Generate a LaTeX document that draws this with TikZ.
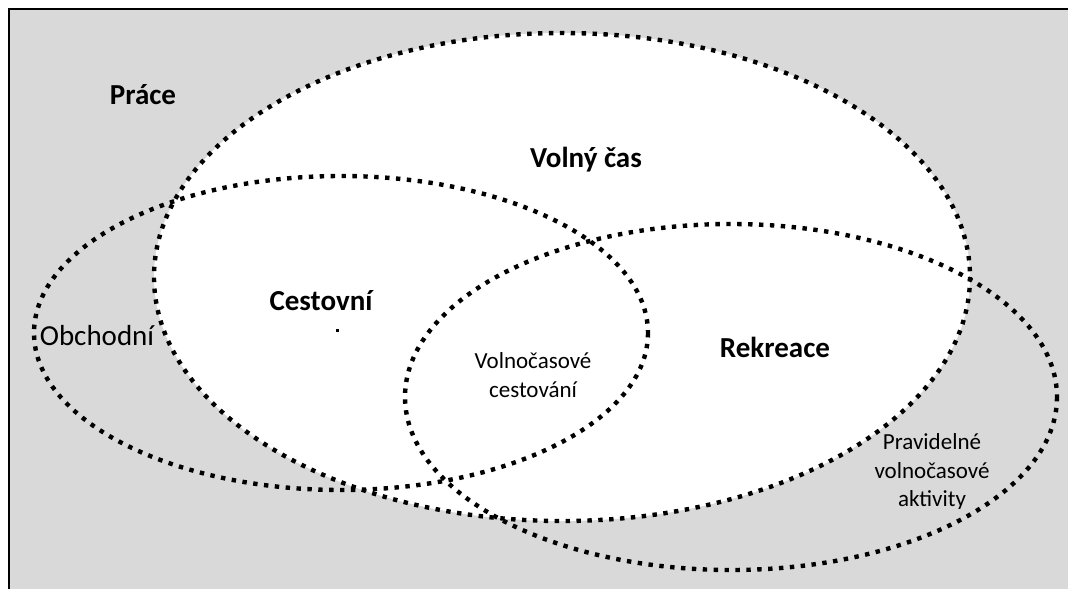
\documentclass[tikz,border=0pt]{standalone}
\usepackage{fontspec}
\setmainfont{Carlito}
\begin{document}
\begin{tikzpicture}[x=1pt,y=-1pt,
  dotline/.style={line width=4.4pt,dash pattern=on 4.4pt off 6.5pt},
  bigtxt/.style={font=\fontsize{29}{32}\selectfont\bfseries,inner sep=0pt},
  regtxt/.style={font=\fontsize{29}{32}\selectfont,inner sep=0pt},
  smalltxt/.style={font=\fontsize{23}{28.5}\selectfont,inner sep=0pt,align=center}]
\useasboundingbox (0,0) rectangle (1068,589);
% background panel
\fill[fill={rgb,255:red,217;green,217;blue,217}] (9,9) rectangle (1068,589);
\draw[line width=2pt] (9,589) -- (9,9) -- (1068,9);
% Volny cas (white)
\fill[white] (562,277) ellipse [x radius=408, y radius=244];
% ellipses
\draw[dotline] (562,277) ellipse [x radius=408, y radius=244];
\draw[dotline] (341,333) ellipse [x radius=307, y radius=157];
\draw[dotline] (731,397) ellipse [x radius=326, y radius=173];
% labels
\node[bigtxt] (prace) at (143,95) {Práce};
\node[bigtxt] (volny) at (586,160) {Volný čas};
\node[bigtxt] (cest) at (321,301) {Cestovní};
\fill (335.5,328.5) rectangle (338.5,331.5);
\node[bigtxt] (rekr) at (775,347) {Rekreace};
\node[regtxt] (obch) at (97,336) {Obchodní};
\node[smalltxt] (volcest) at (533,375) {Volnočasové\\cestování};
\begin{scope}
\clip (850,400) rectangle (1010,508);
\node[smalltxt] (prav) at (932,472) {Pravidelné\\volnočasové\\aktivity};
\end{scope}
\end{tikzpicture}
\end{document}
